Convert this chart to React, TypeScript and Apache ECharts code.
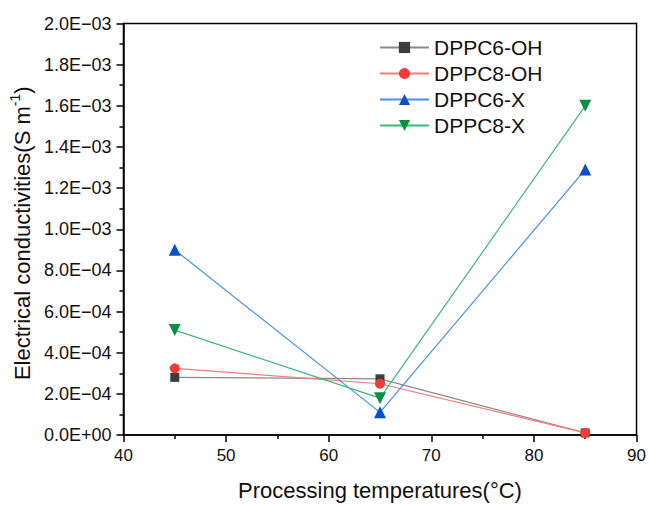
import React, { useEffect, useRef } from "react";
import * as echarts from "echarts";

const temperatures = [45, 65, 85];
const dppc6OH = [2.8e-4, 2.73e-4, 1.0e-5];
const dppc8OH = [3.24e-4, 2.49e-4, 1.0e-5];
const dppc6X = [9.0e-4, 1.1e-4, 1.29e-3];
const dppc8X = [5.1e-4, 1.79e-4, 1.6e-3];

const seriesNames = ["DPPC6-OH", "DPPC8-OH", "DPPC6-X", "DPPC8-X"];
const seriesValues = [dppc6OH, dppc8OH, dppc6X, dppc8X];
const symbols = ["rect", "circle", "triangle", "triangle"];
const symbolRotates = [0, 0, 0, 180];
const markerColors = ["#3d3d3d", "#f53a3a", "#0a50c8", "#0a8f45"];
const lineColors = ["#8a8a8a", "#ff7a7a", "#4a8ef0", "#3cb878"];

const FONT = "'Liberation Sans', Arial, sans-serif";

function fmtExp(v: number): string {
  if (Math.abs(v) < 1e-12) return "0.0E+00";
  let e = Math.floor(Math.log10(Math.abs(v)) + 1e-9);
  let m = v / Math.pow(10, e);
  let ms = m.toFixed(1);
  if (ms === "10.0") {
    e += 1;
    ms = "1.0";
  }
  const sign = e < 0 ? "\u2212" : "+";
  const ae = Math.abs(e);
  return ms + "E" + sign + (ae < 10 ? "0" + ae : String(ae));
}

export default function App() {
  const ref = useRef<HTMLDivElement>(null);
  useEffect(() => {
    if (!ref.current) return;
    const chart = echarts.init(ref.current, null, { renderer: "svg" });
    const series = seriesNames.map((name, i) => ({
      name,
      type: "line",
      data: temperatures.map((t, j) => [t, seriesValues[i][j]]),
      symbol: symbols[i],
      symbolRotate: symbolRotates[i],
      symbolSize: symbols[i] === "rect" ? 9 : symbols[i] === "circle" ? 10 : 12,
      showAllSymbol: true,
      itemStyle: { color: markerColors[i] },
      lineStyle: { color: lineColors[i], width: 1.2 },
      z: 2 + i,
    }));
    chart.setOption({
      animation: false,
      backgroundColor: "#ffffff",
      textStyle: { fontFamily: FONT },
      grid: {
        left: 118.5,
        right: 10.5,
        top: 23.5,
        bottom: 64.5,
        show: true,
        borderColor: "#000",
        borderWidth: 1.5,
        containLabel: false,
      },
      legend: {
        orient: "vertical",
        left: 374,
        top: 32,
        itemWidth: 49,
        itemHeight: 14,
        itemGap: 5,
        textStyle: { fontSize: 21, color: "#111", fontFamily: FONT },
        data: seriesNames,
      },
      xAxis: {
        type: "value",
        min: 40,
        max: 90,
        interval: 10,
        name: "Processing temperatures(°C)",
        nameLocation: "middle",
        nameGap: 44,
        nameTextStyle: { fontSize: 22, color: "#111", fontFamily: FONT },
        axisLine: { show: true, lineStyle: { color: "#000", width: 1.5 } },
        axisTick: { show: true, inside: false, length: 7, lineStyle: { color: "#000", width: 1.5 } },
        minorTick: { show: true, splitNumber: 2, length: 4, lineStyle: { color: "#000", width: 1.5 } },
        axisLabel: { fontSize: 17, color: "#111", margin: 12, fontFamily: FONT },
        splitLine: { show: false },
      },
      yAxis: {
        type: "value",
        min: 0,
        max: 2e-3,
        interval: 2e-4,
        name: "{n|Electrical conductivities(S m}{s|-1}{n|)}",
        nameLocation: "middle",
        nameGap: 80,
        nameRotate: 90,
        nameTextStyle: {
          fontSize: 22,
          color: "#111",
          fontFamily: FONT,
          padding: [0, 8, 0, 0],
          rich: {
            n: { fontSize: 22, color: "#111", fontFamily: FONT },
            s: { fontSize: 14, color: "#111", fontFamily: FONT, padding: [0, 0, 14, 0] },
          },
        },
        axisLine: { show: true, lineStyle: { color: "#000", width: 1.5 } },
        axisTick: { show: true, inside: false, length: 7, lineStyle: { color: "#000", width: 1.5 } },
        minorTick: { show: true, splitNumber: 2, length: 4, lineStyle: { color: "#000", width: 1.5 } },
        axisLabel: {
          fontSize: 18,
          color: "#111",
          margin: 12,
          fontFamily: FONT,
          formatter: (v: number) => fmtExp(v),
        },
        splitLine: { show: false },
      },
      series,
    });
    return () => chart.dispose();
  }, []);
  return (
    <div
      ref={ref}
      style={{ position: "absolute", left: 0, top: 0, width: 649, height: 506 }}
    />
  );
}
